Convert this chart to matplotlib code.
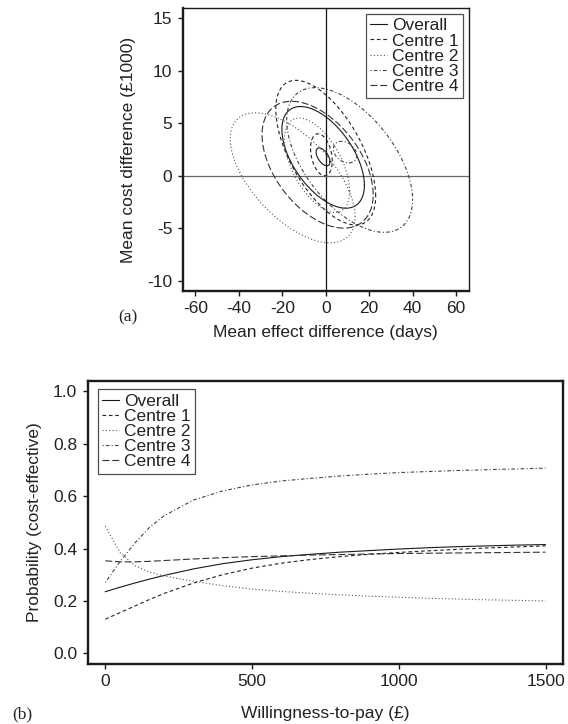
import numpy as np
import matplotlib
matplotlib.use("Agg")
import matplotlib.pyplot as plt

plt.rcParams['font.family'] = ['Liberation Sans', 'DejaVu Sans']
plt.rcParams['lines.scale_dashes'] = False
plt.rcParams['axes.unicode_minus'] = False

# --- dane ---
groups = ["Overall", "Centre 1", "Centre 2", "Centre 3", "Centre 4"]

# (a) elipsy ufności: grupa, środek (x, y), półzakres x/y, korelacja
ell_group = ["Overall", "Overall", "Centre 1", "Centre 1", "Centre 2", "Centre 2",
             "Centre 3", "Centre 3", "Centre 4"]
ell_cx = [-1.2, -1.25, 0.0, -2.0, -15.25, -4.0, 11.0, 8.9, -3.75]
ell_cy = [1.75, 1.8, 2.2, 2.0, -0.2, 1.0, 1.5, 2.25, 1.05]
ell_rx = [19.0, 3.2, 23.0, 5.0, 28.75, 15.0, 29.0, 5.4, 25.6]
ell_ry = [4.85, 0.85, 6.9, 2.0, 6.2, 4.5, 6.9, 1.03, 6.05]
ell_rho = [-0.55, -0.55, -0.6, -0.3, -0.6, -0.55, -0.55, -0.3, -0.47]

# (b) krzywe akceptowalności
wtp = [0, 50, 100, 150, 200, 300, 400, 500, 600, 700, 800, 900, 1000,
       1100, 1200, 1300, 1400, 1500]
p_overall = [0.235, 0.252, 0.268, 0.283, 0.297, 0.322, 0.342, 0.357, 0.369, 0.378,
             0.386, 0.392, 0.398, 0.403, 0.407, 0.410, 0.413, 0.415]
p_c1 = [0.130, 0.155, 0.180, 0.205, 0.228, 0.268, 0.300, 0.325, 0.344, 0.358,
        0.369, 0.378, 0.385, 0.391, 0.397, 0.402, 0.406, 0.410]
p_c2 = [0.485, 0.385, 0.335, 0.310, 0.295, 0.275, 0.258, 0.245, 0.236, 0.229,
        0.223, 0.218, 0.214, 0.210, 0.207, 0.204, 0.202, 0.200]
p_c3 = [0.270, 0.350, 0.420, 0.480, 0.525, 0.585, 0.620, 0.643, 0.658, 0.668,
        0.677, 0.684, 0.690, 0.694, 0.698, 0.701, 0.704, 0.707]
p_c4 = [0.353, 0.349, 0.349, 0.351, 0.354, 0.360, 0.365, 0.369, 0.372, 0.375,
        0.377, 0.379, 0.381, 0.382, 0.383, 0.384, 0.385, 0.386]
curves = [p_overall, p_c1, p_c2, p_c3, p_c4]

# style linii (jak lty w R)
styles = {
    "Overall": dict(color="#1a1a1a", ls="-"),
    "Centre 1": dict(color="#222222", ls=(0, (2.6, 2.0))),
    "Centre 2": dict(color="#555555", ls=(0, (0.8, 1.6))),
    "Centre 3": dict(color="#444444", ls=(0, (0.8, 1.6, 2.6, 1.6))),
    "Centre 4": dict(color="#333333", ls=(0, (5.0, 2.0))),
}

FS = 12.5
TXT = "#222222"

fig = plt.figure(figsize=(5.68, 7.24), dpi=100)

def style_axes(ax, thick_all):
    for side in ["left", "bottom"]:
        ax.spines[side].set_linewidth(1.7)
    for side in ["top", "right"]:
        ax.spines[side].set_linewidth(1.7 if thick_all else 1.0)
    for s in ax.spines.values():
        s.set_color("#1a1a1a")
    ax.tick_params(direction="out", length=3.5, width=1.0, pad=4,
                   labelsize=FS, colors="#1a1a1a", labelcolor=TXT)

def legend(ax, **kw):
    leg = ax.legend(fontsize=FS, frameon=True, fancybox=False, labelspacing=0.0,
                    handlelength=0.95, handletextpad=0.3, borderpad=0.25,
                    borderaxespad=0, **kw)
    leg.get_frame().set_edgecolor("#222222")
    leg.get_frame().set_linewidth(0.9)
    for t in leg.get_texts():
        t.set_color(TXT)

# --- wykres (a) ---
ax1 = fig.add_axes([0.322, 0.598, 0.503, 0.391])
ax1.axvline(0, color="#111111", lw=0.9)
ax1.axhline(0, color="#666666", lw=0.9)
t = np.linspace(0, 2 * np.pi, 300)
seen = set()
for g, cx, cy, rx, ry, rho in zip(ell_group, ell_cx, ell_cy, ell_rx, ell_ry, ell_rho):
    x = cx + rx * np.cos(t)
    y = cy + ry * (rho * np.cos(t) + np.sqrt(1 - rho ** 2) * np.sin(t))
    st = styles[g]
    ax1.plot(x, y, color=st["color"], linestyle=st["ls"], lw=0.8,
             label=g if g not in seen else None)
    seen.add(g)
ax1.set_xlim(-65.8, 65.8)
ax1.set_ylim(-11, 16)
ax1.set_xticks([-60, -40, -20, 0, 20, 40, 60])
ax1.set_yticks([-10, -5, 0, 5, 10, 15])
ax1.set_xlabel("Mean effect difference (days)", fontsize=FS, color=TXT, labelpad=6)
ax1.set_ylabel("Mean cost difference (£1000)", fontsize=FS, color=TXT, labelpad=8)
style_axes(ax1, False)
handles, labs = ax1.get_legend_handles_labels()
order = [labs.index(g) for g in groups]
legend(ax1, handles=[handles[i] for i in order], labels=groups,
       loc="upper right", bbox_to_anchor=(0.98, 0.979))
fig.text(0.225, 0.562, "(a)", fontsize=FS, family="Liberation Serif", color=TXT,
         ha="center", va="center")

# --- wykres (b) ---
ax2 = fig.add_axes([0.1544, 0.0833, 0.8370, 0.3905])
for g, p in zip(groups, curves):
    st = styles[g]
    ax2.plot(wtp, p, color=st["color"], linestyle=st["ls"], lw=0.8, label=g)
ax2.set_xlim(-60, 1560)
ax2.set_ylim(-0.04, 1.04)
ax2.set_xticks([0, 500, 1000, 1500])
ax2.set_yticks([0.0, 0.2, 0.4, 0.6, 0.8, 1.0])
ax2.set_yticklabels(["0.0", "0.2", "0.4", "0.6", "0.8", "1.0"])
ax2.set_xlabel("Willingness-to-pay (£)", fontsize=FS, color=TXT, labelpad=12)
ax2.set_ylabel("Probability (cost-effective)", fontsize=FS, color=TXT, labelpad=8)
style_axes(ax2, True)
legend(ax2, loc="upper left", bbox_to_anchor=(0.021, 0.971))
fig.text(0.04, 0.013, "(b)", fontsize=FS, family="Liberation Serif", color=TXT,
         ha="center", va="center")

fig.savefig("out.png", dpi=100)
